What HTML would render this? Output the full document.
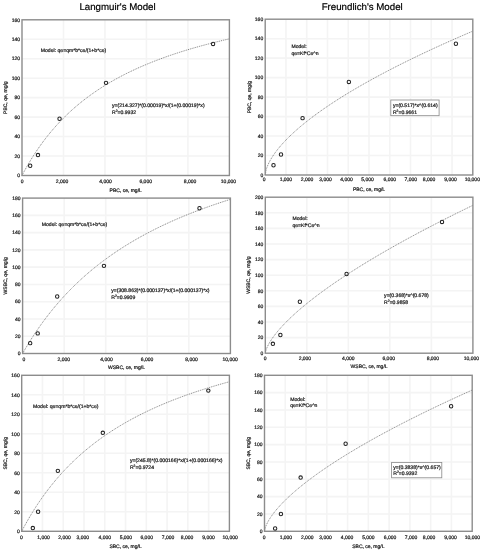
<!DOCTYPE html>
<html><head><meta charset="utf-8"><style>
html,body{margin:0;padding:0;background:#fff;width:483px;height:550px;overflow:hidden}
svg{display:block;filter:grayscale(1);text-rendering:geometricPrecision;font-family:"Liberation Sans",sans-serif}
</style></head><body>
<svg width="483" height="550" viewBox="0 0 483 550">
<rect width="483" height="550" fill="#fff"/>
<path d="M22.00 156.04H229.40M22.00 136.57H229.40M22.00 117.11H229.40M22.00 97.65H229.40M22.00 78.19H229.40M22.00 58.72H229.40M22.00 39.26H229.40M63.48 19.80V175.50M104.96 19.80V175.50M146.44 19.80V175.50M187.92 19.80V175.50" stroke="#f4f4f4" stroke-width="1.6" fill="none"/>
<polyline points="22.00,175.50 23.04,173.54 24.07,171.61 25.11,169.72 26.15,167.86 27.18,166.04 28.22,164.25 29.26,162.50 30.30,160.77 31.33,159.07 32.37,157.41 33.41,155.77 34.44,154.16 35.48,152.57 36.52,151.02 37.55,149.49 38.59,147.98 39.63,146.50 40.67,145.04 41.70,143.61 42.74,142.20 43.78,140.81 44.81,139.44 45.85,138.10 46.89,136.78 47.92,135.47 48.96,134.19 50.00,132.92 51.04,131.68 52.07,130.45 53.11,129.24 54.15,128.05 55.18,126.88 56.22,125.72 57.26,124.58 58.30,123.46 59.33,122.35 60.37,121.26 61.41,120.18 62.44,119.12 63.48,118.07 64.52,117.04 65.55,116.02 66.59,115.01 67.63,114.02 68.66,113.04 69.70,112.07 70.74,111.12 71.78,110.18 72.81,109.25 73.85,108.33 74.89,107.43 75.92,106.54 76.96,105.65 78.00,104.78 79.03,103.92 80.07,103.07 81.11,102.23 82.15,101.41 83.18,100.59 84.22,99.78 85.26,98.98 86.29,98.19 87.33,97.41 88.37,96.64 89.41,95.88 90.44,95.12 91.48,94.38 92.52,93.64 93.55,92.92 94.59,92.20 95.63,91.49 96.66,90.79 97.70,90.09 98.74,89.40 99.78,88.72 100.81,88.05 101.85,87.39 102.89,86.73 103.92,86.08 104.96,85.44 106.00,84.80 107.03,84.17 108.07,83.55 109.11,82.93 110.14,82.32 111.18,81.72 112.22,81.12 113.26,80.53 114.29,79.95 115.33,79.37 116.37,78.80 117.40,78.23 118.44,77.67 119.48,77.11 120.52,76.56 121.55,76.02 122.59,75.48 123.63,74.94 124.66,74.41 125.70,73.89 126.74,73.37 127.77,72.86 128.81,72.35 129.85,71.85 130.88,71.35 131.92,70.85 132.96,70.36 134.00,69.88 135.03,69.40 136.07,68.92 137.11,68.45 138.14,67.98 139.18,67.52 140.22,67.06 141.25,66.61 142.29,66.16 143.33,65.71 144.37,65.27 145.40,64.83 146.44,64.39 147.48,63.96 148.51,63.54 149.55,63.11 150.59,62.69 151.62,62.28 152.66,61.87 153.70,61.46 154.74,61.05 155.77,60.65 156.81,60.25 157.85,59.86 158.88,59.46 159.92,59.08 160.96,58.69 162.00,58.31 163.03,57.93 164.07,57.56 165.11,57.18 166.14,56.81 167.18,56.45 168.22,56.08 169.25,55.72 170.29,55.37 171.33,55.01 172.37,54.66 173.40,54.31 174.44,53.96 175.48,53.62 176.51,53.28 177.55,52.94 178.59,52.60 179.62,52.27 180.66,51.94 181.70,51.61 182.74,51.29 183.77,50.96 184.81,50.64 185.85,50.33 186.88,50.01 187.92,49.70 188.96,49.39 189.99,49.08 191.03,48.77 192.07,48.47 193.10,48.17 194.14,47.87 195.18,47.57 196.22,47.27 197.25,46.98 198.29,46.69 199.33,46.40 200.36,46.12 201.40,45.83 202.44,45.55 203.47,45.27 204.51,44.99 205.55,44.71 206.59,44.44 207.62,44.17 208.66,43.90 209.70,43.63 210.73,43.36 211.77,43.09 212.81,42.83 213.84,42.57 214.88,42.31 215.92,42.05 216.96,41.80 217.99,41.54 219.03,41.29 220.07,41.04 221.10,40.79 222.14,40.54 223.18,40.29 224.22,40.05 225.25,39.81 226.29,39.57 227.33,39.33 228.36,39.09 229.40,38.85" stroke="#6a6a6a" stroke-width="0.85" fill="none" stroke-dasharray="1 0.9"/>
<rect x="22.00" y="19.80" width="207.40" height="155.70" stroke="#8c8c8c" stroke-width="1.4" fill="none"/>
<circle cx="30.19" cy="165.77" r="1.7" stroke="#222" stroke-width="1.05" fill="none"/>
<circle cx="37.97" cy="155.06" r="1.7" stroke="#222" stroke-width="1.05" fill="none"/>
<circle cx="59.54" cy="118.77" r="1.7" stroke="#222" stroke-width="1.05" fill="none"/>
<circle cx="106.00" cy="82.86" r="1.7" stroke="#222" stroke-width="1.05" fill="none"/>
<circle cx="213.08" cy="43.93" r="1.7" stroke="#222" stroke-width="1.05" fill="none"/>
<text x="20.00" y="177.20" font-size="5.0" text-anchor="end" fill="#1a1a1a" stroke="#1a1a1a" stroke-width="0.22">0</text>
<text x="20.00" y="157.74" font-size="5.0" text-anchor="end" fill="#1a1a1a" stroke="#1a1a1a" stroke-width="0.22">20</text>
<text x="20.00" y="138.27" font-size="5.0" text-anchor="end" fill="#1a1a1a" stroke="#1a1a1a" stroke-width="0.22">40</text>
<text x="20.00" y="118.81" font-size="5.0" text-anchor="end" fill="#1a1a1a" stroke="#1a1a1a" stroke-width="0.22">60</text>
<text x="20.00" y="99.35" font-size="5.0" text-anchor="end" fill="#1a1a1a" stroke="#1a1a1a" stroke-width="0.22">80</text>
<text x="20.00" y="79.89" font-size="5.0" text-anchor="end" fill="#1a1a1a" stroke="#1a1a1a" stroke-width="0.22">100</text>
<text x="20.00" y="60.42" font-size="5.0" text-anchor="end" fill="#1a1a1a" stroke="#1a1a1a" stroke-width="0.22">120</text>
<text x="20.00" y="40.96" font-size="5.0" text-anchor="end" fill="#1a1a1a" stroke="#1a1a1a" stroke-width="0.22">140</text>
<text x="20.00" y="21.50" font-size="5.0" text-anchor="end" fill="#1a1a1a" stroke="#1a1a1a" stroke-width="0.22">160</text>
<text x="22.20" y="183.20" font-size="5.0" text-anchor="middle" fill="#1a1a1a" stroke="#1a1a1a" stroke-width="0.22">0</text>
<text x="62.10" y="183.20" font-size="5.0" text-anchor="middle" fill="#1a1a1a" stroke="#1a1a1a" stroke-width="0.22">2,000</text>
<text x="105.50" y="183.20" font-size="5.0" text-anchor="middle" fill="#1a1a1a" stroke="#1a1a1a" stroke-width="0.22">4,000</text>
<text x="145.70" y="183.20" font-size="5.0" text-anchor="middle" fill="#1a1a1a" stroke="#1a1a1a" stroke-width="0.22">6,000</text>
<text x="190.10" y="183.20" font-size="5.0" text-anchor="middle" fill="#1a1a1a" stroke="#1a1a1a" stroke-width="0.22">8,000</text>
<text x="228.50" y="183.20" font-size="5.0" text-anchor="middle" fill="#1a1a1a" stroke="#1a1a1a" stroke-width="0.22">10,000</text>
<text x="125.70" y="192.20" font-size="5.0" text-anchor="middle" fill="#1a1a1a" stroke="#1a1a1a" stroke-width="0.22">PBC, ce, mg/L</text>
<text x="7.10" y="97.65" font-size="5.0" text-anchor="middle" fill="#1a1a1a" stroke="#1a1a1a" stroke-width="0.22" transform="rotate(-90 7.10 97.65)">PBC, qe, mg/g</text>
<path d="M22.60 336.23H230.40M22.60 318.97H230.40M22.60 301.70H230.40M22.60 284.43H230.40M22.60 267.17H230.40M22.60 249.90H230.40M22.60 232.63H230.40M22.60 215.37H230.40M64.16 198.10V353.50M105.72 198.10V353.50M147.28 198.10V353.50M188.84 198.10V353.50" stroke="#f4f4f4" stroke-width="1.6" fill="none"/>
<polyline points="22.60,353.50 23.64,351.69 24.68,349.90 25.72,348.13 26.76,346.39 27.80,344.67 28.83,342.97 29.87,341.30 30.91,339.65 31.95,338.02 32.99,336.41 34.03,334.82 35.07,333.25 36.11,331.70 37.15,330.17 38.19,328.65 39.22,327.16 40.26,325.69 41.30,324.23 42.34,322.79 43.38,321.37 44.42,319.97 45.46,318.58 46.50,317.21 47.54,315.85 48.58,314.51 49.61,313.19 50.65,311.88 51.69,310.59 52.73,309.31 53.77,308.04 54.81,306.79 55.85,305.56 56.89,304.34 57.93,303.13 58.97,301.93 60.00,300.75 61.04,299.58 62.08,298.43 63.12,297.28 64.16,296.15 65.20,295.03 66.24,293.92 67.28,292.83 68.32,291.74 69.36,290.67 70.39,289.61 71.43,288.56 72.47,287.52 73.51,286.49 74.55,285.47 75.59,284.46 76.63,283.47 77.67,282.48 78.71,281.50 79.75,280.53 80.78,279.57 81.82,278.62 82.86,277.68 83.90,276.75 84.94,275.83 85.98,274.92 87.02,274.01 88.06,273.12 89.10,272.23 90.13,271.35 91.17,270.48 92.21,269.62 93.25,268.76 94.29,267.92 95.33,267.08 96.37,266.25 97.41,265.43 98.45,264.61 99.49,263.80 100.53,263.00 101.56,262.21 102.60,261.42 103.64,260.64 104.68,259.87 105.72,259.10 106.76,258.35 107.80,257.59 108.84,256.85 109.88,256.11 110.91,255.38 111.95,254.65 112.99,253.93 114.03,253.21 115.07,252.51 116.11,251.80 117.15,251.11 118.19,250.42 119.23,249.73 120.27,249.06 121.31,248.38 122.34,247.71 123.38,247.05 124.42,246.40 125.46,245.74 126.50,245.10 127.54,244.46 128.58,243.82 129.62,243.19 130.66,242.57 131.69,241.95 132.73,241.33 133.77,240.72 134.81,240.11 135.85,239.51 136.89,238.92 137.93,238.32 138.97,237.74 140.01,237.16 141.05,236.58 142.09,236.00 143.12,235.43 144.16,234.87 145.20,234.31 146.24,233.75 147.28,233.20 148.32,232.65 149.36,232.11 150.40,231.57 151.44,231.03 152.47,230.50 153.51,229.97 154.55,229.45 155.59,228.93 156.63,228.41 157.67,227.90 158.71,227.39 159.75,226.88 160.79,226.38 161.83,225.88 162.86,225.39 163.90,224.90 164.94,224.41 165.98,223.92 167.02,223.44 168.06,222.96 169.10,222.49 170.14,222.02 171.18,221.55 172.22,221.09 173.25,220.63 174.29,220.17 175.33,219.71 176.37,219.26 177.41,218.81 178.45,218.37 179.49,217.92 180.53,217.48 181.57,217.05 182.61,216.61 183.64,216.18 184.68,215.75 185.72,215.33 186.76,214.90 187.80,214.48 188.84,214.07 189.88,213.65 190.92,213.24 191.96,212.83 193.00,212.43 194.03,212.02 195.07,211.62 196.11,211.22 197.15,210.83 198.19,210.43 199.23,210.04 200.27,209.65 201.31,209.27 202.35,208.88 203.39,208.50 204.42,208.12 205.46,207.75 206.50,207.37 207.54,207.00 208.58,206.63 209.62,206.26 210.66,205.90 211.70,205.53 212.74,205.17 213.78,204.81 214.81,204.46 215.85,204.10 216.89,203.75 217.93,203.40 218.97,203.05 220.01,202.71 221.05,202.36 222.09,202.02 223.13,201.68 224.17,201.35 225.20,201.01 226.24,200.68 227.28,200.34 228.32,200.01 229.36,199.69 230.40,199.36" stroke="#6a6a6a" stroke-width="0.85" fill="none" stroke-dasharray="1 0.9"/>
<rect x="22.60" y="198.10" width="207.80" height="155.40" stroke="#8c8c8c" stroke-width="1.4" fill="none"/>
<circle cx="30.18" cy="343.14" r="1.7" stroke="#222" stroke-width="1.05" fill="none"/>
<circle cx="37.71" cy="333.38" r="1.7" stroke="#222" stroke-width="1.05" fill="none"/>
<circle cx="57.20" cy="296.52" r="1.7" stroke="#222" stroke-width="1.05" fill="none"/>
<circle cx="103.95" cy="265.87" r="1.7" stroke="#222" stroke-width="1.05" fill="none"/>
<circle cx="199.48" cy="208.20" r="1.7" stroke="#222" stroke-width="1.05" fill="none"/>
<text x="20.60" y="355.20" font-size="5.0" text-anchor="end" fill="#1a1a1a" stroke="#1a1a1a" stroke-width="0.22">0</text>
<text x="20.60" y="337.93" font-size="5.0" text-anchor="end" fill="#1a1a1a" stroke="#1a1a1a" stroke-width="0.22">20</text>
<text x="20.60" y="320.67" font-size="5.0" text-anchor="end" fill="#1a1a1a" stroke="#1a1a1a" stroke-width="0.22">40</text>
<text x="20.60" y="303.40" font-size="5.0" text-anchor="end" fill="#1a1a1a" stroke="#1a1a1a" stroke-width="0.22">60</text>
<text x="20.60" y="286.13" font-size="5.0" text-anchor="end" fill="#1a1a1a" stroke="#1a1a1a" stroke-width="0.22">80</text>
<text x="20.60" y="268.87" font-size="5.0" text-anchor="end" fill="#1a1a1a" stroke="#1a1a1a" stroke-width="0.22">100</text>
<text x="20.60" y="251.60" font-size="5.0" text-anchor="end" fill="#1a1a1a" stroke="#1a1a1a" stroke-width="0.22">120</text>
<text x="20.60" y="234.33" font-size="5.0" text-anchor="end" fill="#1a1a1a" stroke="#1a1a1a" stroke-width="0.22">140</text>
<text x="20.60" y="217.07" font-size="5.0" text-anchor="end" fill="#1a1a1a" stroke="#1a1a1a" stroke-width="0.22">160</text>
<text x="20.60" y="199.80" font-size="5.0" text-anchor="end" fill="#1a1a1a" stroke="#1a1a1a" stroke-width="0.22">180</text>
<text x="24.00" y="361.10" font-size="5.0" text-anchor="middle" fill="#1a1a1a" stroke="#1a1a1a" stroke-width="0.22">0</text>
<text x="63.80" y="361.10" font-size="5.0" text-anchor="middle" fill="#1a1a1a" stroke="#1a1a1a" stroke-width="0.22">2,000</text>
<text x="106.50" y="361.10" font-size="5.0" text-anchor="middle" fill="#1a1a1a" stroke="#1a1a1a" stroke-width="0.22">4,000</text>
<text x="147.10" y="361.10" font-size="5.0" text-anchor="middle" fill="#1a1a1a" stroke="#1a1a1a" stroke-width="0.22">6,000</text>
<text x="191.60" y="361.10" font-size="5.0" text-anchor="middle" fill="#1a1a1a" stroke="#1a1a1a" stroke-width="0.22">8,000</text>
<text x="230.10" y="361.10" font-size="5.0" text-anchor="middle" fill="#1a1a1a" stroke="#1a1a1a" stroke-width="0.22">10,000</text>
<text x="126.50" y="369.20" font-size="5.0" text-anchor="middle" fill="#1a1a1a" stroke="#1a1a1a" stroke-width="0.22">WSBC, ce, mg/L</text>
<text x="7.30" y="275.80" font-size="5.0" text-anchor="middle" fill="#1a1a1a" stroke="#1a1a1a" stroke-width="0.22" transform="rotate(-90 7.30 275.80)">WSBC, qe, mg/g</text>
<path d="M21.70 511.80H229.40M21.70 492.30H229.40M21.70 472.80H229.40M21.70 453.30H229.40M21.70 433.80H229.40M21.70 414.30H229.40M21.70 394.80H229.40M42.47 375.30V531.30M63.24 375.30V531.30M84.01 375.30V531.30M104.78 375.30V531.30M125.55 375.30V531.30M146.32 375.30V531.30M167.09 375.30V531.30M187.86 375.30V531.30M208.63 375.30V531.30" stroke="#f4f4f4" stroke-width="1.6" fill="none"/>
<polyline points="21.70,531.30 22.74,529.33 23.78,527.39 24.82,525.48 25.85,523.60 26.89,521.75 27.93,519.93 28.97,518.14 30.01,516.38 31.05,514.64 32.09,512.93 33.12,511.25 34.16,509.59 35.20,507.96 36.24,506.35 37.28,504.77 38.32,503.20 39.35,501.67 40.39,500.15 41.43,498.65 42.47,497.18 43.51,495.73 44.55,494.30 45.59,492.88 46.62,491.49 47.66,490.12 48.70,488.76 49.74,487.43 50.78,486.11 51.82,484.81 52.86,483.52 53.89,482.26 54.93,481.01 55.97,479.77 57.01,478.55 58.05,477.35 59.09,476.17 60.12,474.99 61.16,473.84 62.20,472.69 63.24,471.57 64.28,470.45 65.32,469.35 66.36,468.26 67.39,467.19 68.43,466.13 69.47,465.08 70.51,464.05 71.55,463.02 72.59,462.01 73.62,461.01 74.66,460.02 75.70,459.05 76.74,458.08 77.78,457.13 78.82,456.19 79.86,455.25 80.89,454.33 81.93,453.42 82.97,452.52 84.01,451.63 85.05,450.75 86.09,449.87 87.13,449.01 88.16,448.16 89.20,447.32 90.24,446.48 91.28,445.66 92.32,444.84 93.36,444.03 94.40,443.23 95.43,442.44 96.47,441.65 97.51,440.88 98.55,440.11 99.59,439.35 100.63,438.60 101.66,437.86 102.70,437.12 103.74,436.39 104.78,435.67 105.82,434.95 106.86,434.25 107.90,433.55 108.93,432.85 109.97,432.16 111.01,431.48 112.05,430.81 113.09,430.14 114.13,429.48 115.17,428.83 116.20,428.18 117.24,427.53 118.28,426.90 119.32,426.27 120.36,425.64 121.40,425.02 122.43,424.41 123.47,423.80 124.51,423.20 125.55,422.60 126.59,422.01 127.63,421.43 128.67,420.85 129.70,420.27 130.74,419.70 131.78,419.13 132.82,418.57 133.86,418.02 134.90,417.47 135.94,416.92 136.97,416.38 138.01,415.84 139.05,415.31 140.09,414.78 141.13,414.26 142.17,413.74 143.20,413.23 144.24,412.72 145.28,412.21 146.32,411.71 147.36,411.22 148.40,410.72 149.44,410.23 150.47,409.75 151.51,409.27 152.55,408.79 153.59,408.32 154.63,407.85 155.67,407.38 156.70,406.92 157.74,406.46 158.78,406.01 159.82,405.55 160.86,405.11 161.90,404.66 162.94,404.22 163.97,403.79 165.01,403.35 166.05,402.92 167.09,402.49 168.13,402.07 169.17,401.65 170.21,401.23 171.24,400.82 172.28,400.41 173.32,400.00 174.36,399.59 175.40,399.19 176.44,398.79 177.48,398.40 178.51,398.00 179.55,397.61 180.59,397.22 181.63,396.84 182.67,396.46 183.71,396.08 184.74,395.70 185.78,395.33 186.82,394.96 187.86,394.59 188.90,394.22 189.94,393.86 190.98,393.50 192.01,393.14 193.05,392.79 194.09,392.43 195.13,392.08 196.17,391.73 197.21,391.39 198.25,391.05 199.28,390.70 200.32,390.37 201.36,390.03 202.40,389.70 203.44,389.36 204.48,389.03 205.51,388.71 206.55,388.38 207.59,388.06 208.63,387.74 209.67,387.42 210.71,387.10 211.75,386.79 212.78,386.48 213.82,386.16 214.86,385.86 215.90,385.55 216.94,385.25 217.98,384.94 219.02,384.64 220.05,384.34 221.09,384.05 222.13,383.75 223.17,383.46 224.21,383.17 225.25,382.88 226.28,382.59 227.32,382.31 228.36,382.02 229.40,381.74" stroke="#6a6a6a" stroke-width="0.85" fill="none" stroke-dasharray="1 0.9"/>
<rect x="21.70" y="375.30" width="207.70" height="156.00" stroke="#8c8c8c" stroke-width="1.4" fill="none"/>
<circle cx="32.83" cy="528.08" r="1.7" stroke="#222" stroke-width="1.05" fill="none"/>
<circle cx="38.11" cy="511.80" r="1.7" stroke="#222" stroke-width="1.05" fill="none"/>
<circle cx="57.84" cy="470.85" r="1.7" stroke="#222" stroke-width="1.05" fill="none"/>
<circle cx="102.83" cy="432.82" r="1.7" stroke="#222" stroke-width="1.05" fill="none"/>
<circle cx="208.32" cy="390.61" r="1.7" stroke="#222" stroke-width="1.05" fill="none"/>
<text x="19.70" y="533.00" font-size="5.0" text-anchor="end" fill="#1a1a1a" stroke="#1a1a1a" stroke-width="0.22">0</text>
<text x="19.70" y="513.50" font-size="5.0" text-anchor="end" fill="#1a1a1a" stroke="#1a1a1a" stroke-width="0.22">20</text>
<text x="19.70" y="494.00" font-size="5.0" text-anchor="end" fill="#1a1a1a" stroke="#1a1a1a" stroke-width="0.22">40</text>
<text x="19.70" y="474.50" font-size="5.0" text-anchor="end" fill="#1a1a1a" stroke="#1a1a1a" stroke-width="0.22">60</text>
<text x="19.70" y="455.00" font-size="5.0" text-anchor="end" fill="#1a1a1a" stroke="#1a1a1a" stroke-width="0.22">80</text>
<text x="19.70" y="435.50" font-size="5.0" text-anchor="end" fill="#1a1a1a" stroke="#1a1a1a" stroke-width="0.22">100</text>
<text x="19.70" y="416.00" font-size="5.0" text-anchor="end" fill="#1a1a1a" stroke="#1a1a1a" stroke-width="0.22">120</text>
<text x="19.70" y="396.50" font-size="5.0" text-anchor="end" fill="#1a1a1a" stroke="#1a1a1a" stroke-width="0.22">140</text>
<text x="19.70" y="377.00" font-size="5.0" text-anchor="end" fill="#1a1a1a" stroke="#1a1a1a" stroke-width="0.22">160</text>
<text x="21.50" y="538.70" font-size="5.0" text-anchor="middle" fill="#1a1a1a" stroke="#1a1a1a" stroke-width="0.22">0</text>
<text x="43.60" y="538.70" font-size="5.0" text-anchor="middle" fill="#1a1a1a" stroke="#1a1a1a" stroke-width="0.22">1,000</text>
<text x="64.60" y="538.70" font-size="5.0" text-anchor="middle" fill="#1a1a1a" stroke="#1a1a1a" stroke-width="0.22">2,000</text>
<text x="82.80" y="538.70" font-size="5.0" text-anchor="middle" fill="#1a1a1a" stroke="#1a1a1a" stroke-width="0.22">3,000</text>
<text x="104.80" y="538.70" font-size="5.0" text-anchor="middle" fill="#1a1a1a" stroke="#1a1a1a" stroke-width="0.22">4,000</text>
<text x="125.90" y="538.70" font-size="5.0" text-anchor="middle" fill="#1a1a1a" stroke="#1a1a1a" stroke-width="0.22">5,000</text>
<text x="146.70" y="538.70" font-size="5.0" text-anchor="middle" fill="#1a1a1a" stroke="#1a1a1a" stroke-width="0.22">6,000</text>
<text x="168.10" y="538.70" font-size="5.0" text-anchor="middle" fill="#1a1a1a" stroke="#1a1a1a" stroke-width="0.22">7,000</text>
<text x="187.00" y="538.70" font-size="5.0" text-anchor="middle" fill="#1a1a1a" stroke="#1a1a1a" stroke-width="0.22">8,000</text>
<text x="208.60" y="538.70" font-size="5.0" text-anchor="middle" fill="#1a1a1a" stroke="#1a1a1a" stroke-width="0.22">9,000</text>
<text x="230.10" y="538.70" font-size="5.0" text-anchor="middle" fill="#1a1a1a" stroke="#1a1a1a" stroke-width="0.22">10,000</text>
<text x="125.55" y="547.80" font-size="5.0" text-anchor="middle" fill="#1a1a1a" stroke="#1a1a1a" stroke-width="0.22">SBC, ce, mg/L</text>
<text x="7.10" y="453.30" font-size="5.0" text-anchor="middle" fill="#1a1a1a" stroke="#1a1a1a" stroke-width="0.22" transform="rotate(-90 7.10 453.30)">SBC, qe, mg/g</text>
<path d="M265.20 155.53H472.80M265.20 136.05H472.80M265.20 116.58H472.80M265.20 97.10H472.80M265.20 77.62H472.80M265.20 58.15H472.80M265.20 38.68H472.80M285.96 19.20V175.00M306.72 19.20V175.00M327.48 19.20V175.00M348.24 19.20V175.00M369.00 19.20V175.00M389.76 19.20V175.00M410.52 19.20V175.00M431.28 19.20V175.00M452.04 19.20V175.00" stroke="#f4f4f4" stroke-width="1.6" fill="none"/>
<polyline points="265.20,175.00 266.24,169.44 267.28,166.49 268.31,164.08 269.35,161.98 270.39,160.06 271.43,158.29 272.47,156.63 273.50,155.07 274.54,153.57 275.58,152.14 276.62,150.76 277.66,149.43 278.69,148.14 279.73,146.89 280.77,145.68 281.81,144.49 282.85,143.33 283.88,142.20 284.92,141.10 285.96,140.01 287.00,138.95 288.04,137.90 289.07,136.88 290.11,135.87 291.15,134.87 292.19,133.89 293.23,132.93 294.26,131.98 295.30,131.04 296.34,130.12 297.38,129.21 298.42,128.31 299.45,127.41 300.49,126.53 301.53,125.66 302.57,124.80 303.61,123.95 304.64,123.11 305.68,122.27 306.72,121.45 307.76,120.63 308.80,119.82 309.83,119.02 310.87,118.22 311.91,117.43 312.95,116.65 313.99,115.87 315.02,115.11 316.06,114.34 317.10,113.59 318.14,112.83 319.18,112.09 320.21,111.35 321.25,110.61 322.29,109.88 323.33,109.16 324.37,108.44 325.40,107.73 326.44,107.02 327.48,106.31 328.52,105.61 329.56,104.91 330.59,104.22 331.63,103.53 332.67,102.85 333.71,102.17 334.75,101.50 335.78,100.82 336.82,100.16 337.86,99.49 338.90,98.83 339.94,98.17 340.97,97.52 342.01,96.87 343.05,96.22 344.09,95.58 345.13,94.94 346.16,94.30 347.20,93.67 348.24,93.04 349.28,92.41 350.32,91.79 351.35,91.17 352.39,90.55 353.43,89.93 354.47,89.32 355.51,88.71 356.54,88.10 357.58,87.50 358.62,86.89 359.66,86.29 360.70,85.70 361.73,85.10 362.77,84.51 363.81,83.92 364.85,83.33 365.89,82.75 366.92,82.16 367.96,81.58 369.00,81.00 370.04,80.43 371.08,79.85 372.11,79.28 373.15,78.71 374.19,78.15 375.23,77.58 376.27,77.02 377.30,76.46 378.34,75.90 379.38,75.34 380.42,74.78 381.46,74.23 382.49,73.68 383.53,73.13 384.57,72.58 385.61,72.04 386.65,71.49 387.68,70.95 388.72,70.41 389.76,69.87 390.80,69.33 391.84,68.80 392.87,68.26 393.91,67.73 394.95,67.20 395.99,66.67 397.03,66.15 398.06,65.62 399.10,65.10 400.14,64.58 401.18,64.05 402.22,63.54 403.25,63.02 404.29,62.50 405.33,61.99 406.37,61.47 407.41,60.96 408.44,60.45 409.48,59.94 410.52,59.43 411.56,58.93 412.60,58.42 413.63,57.92 414.67,57.42 415.71,56.92 416.75,56.42 417.79,55.92 418.82,55.42 419.86,54.93 420.90,54.43 421.94,53.94 422.98,53.45 424.01,52.96 425.05,52.47 426.09,51.98 427.13,51.50 428.17,51.01 429.20,50.53 430.24,50.04 431.28,49.56 432.32,49.08 433.36,48.60 434.39,48.12 435.43,47.64 436.47,47.17 437.51,46.69 438.55,46.22 439.58,45.75 440.62,45.27 441.66,44.80 442.70,44.33 443.74,43.86 444.77,43.40 445.81,42.93 446.85,42.46 447.89,42.00 448.93,41.54 449.96,41.07 451.00,40.61 452.04,40.15 453.08,39.69 454.12,39.23 455.15,38.78 456.19,38.32 457.23,37.86 458.27,37.41 459.31,36.96 460.34,36.50 461.38,36.05 462.42,35.60 463.46,35.15 464.50,34.70 465.53,34.25 466.57,33.81 467.61,33.36 468.65,32.91 469.69,32.47 470.72,32.03 471.76,31.58 472.80,31.14" stroke="#6a6a6a" stroke-width="0.85" fill="none" stroke-dasharray="1 0.9"/>
<rect x="265.20" y="19.20" width="207.60" height="155.80" stroke="#8c8c8c" stroke-width="1.4" fill="none"/>
<circle cx="273.50" cy="165.26" r="1.7" stroke="#222" stroke-width="1.05" fill="none"/>
<circle cx="281.00" cy="154.45" r="1.7" stroke="#222" stroke-width="1.05" fill="none"/>
<circle cx="302.57" cy="118.13" r="1.7" stroke="#222" stroke-width="1.05" fill="none"/>
<circle cx="348.86" cy="81.91" r="1.7" stroke="#222" stroke-width="1.05" fill="none"/>
<circle cx="455.90" cy="43.74" r="1.7" stroke="#222" stroke-width="1.05" fill="none"/>
<text x="263.20" y="176.70" font-size="5.0" text-anchor="end" fill="#1a1a1a" stroke="#1a1a1a" stroke-width="0.22">0</text>
<text x="263.20" y="157.22" font-size="5.0" text-anchor="end" fill="#1a1a1a" stroke="#1a1a1a" stroke-width="0.22">20</text>
<text x="263.20" y="137.75" font-size="5.0" text-anchor="end" fill="#1a1a1a" stroke="#1a1a1a" stroke-width="0.22">40</text>
<text x="263.20" y="118.28" font-size="5.0" text-anchor="end" fill="#1a1a1a" stroke="#1a1a1a" stroke-width="0.22">60</text>
<text x="263.20" y="98.80" font-size="5.0" text-anchor="end" fill="#1a1a1a" stroke="#1a1a1a" stroke-width="0.22">80</text>
<text x="263.20" y="79.32" font-size="5.0" text-anchor="end" fill="#1a1a1a" stroke="#1a1a1a" stroke-width="0.22">100</text>
<text x="263.20" y="59.85" font-size="5.0" text-anchor="end" fill="#1a1a1a" stroke="#1a1a1a" stroke-width="0.22">120</text>
<text x="263.20" y="40.38" font-size="5.0" text-anchor="end" fill="#1a1a1a" stroke="#1a1a1a" stroke-width="0.22">140</text>
<text x="263.20" y="20.90" font-size="5.0" text-anchor="end" fill="#1a1a1a" stroke="#1a1a1a" stroke-width="0.22">160</text>
<text x="264.10" y="181.40" font-size="5.0" text-anchor="middle" fill="#1a1a1a" stroke="#1a1a1a" stroke-width="0.22">0</text>
<text x="285.90" y="181.40" font-size="5.0" text-anchor="middle" fill="#1a1a1a" stroke="#1a1a1a" stroke-width="0.22">1,000</text>
<text x="307.10" y="181.40" font-size="5.0" text-anchor="middle" fill="#1a1a1a" stroke="#1a1a1a" stroke-width="0.22">2,000</text>
<text x="325.50" y="181.40" font-size="5.0" text-anchor="middle" fill="#1a1a1a" stroke="#1a1a1a" stroke-width="0.22">3,000</text>
<text x="346.60" y="181.40" font-size="5.0" text-anchor="middle" fill="#1a1a1a" stroke="#1a1a1a" stroke-width="0.22">4,000</text>
<text x="367.60" y="181.40" font-size="5.0" text-anchor="middle" fill="#1a1a1a" stroke="#1a1a1a" stroke-width="0.22">5,000</text>
<text x="389.80" y="181.40" font-size="5.0" text-anchor="middle" fill="#1a1a1a" stroke="#1a1a1a" stroke-width="0.22">6,000</text>
<text x="410.80" y="181.40" font-size="5.0" text-anchor="middle" fill="#1a1a1a" stroke="#1a1a1a" stroke-width="0.22">7,000</text>
<text x="429.10" y="181.40" font-size="5.0" text-anchor="middle" fill="#1a1a1a" stroke="#1a1a1a" stroke-width="0.22">8,000</text>
<text x="450.50" y="181.40" font-size="5.0" text-anchor="middle" fill="#1a1a1a" stroke="#1a1a1a" stroke-width="0.22">9,000</text>
<text x="472.30" y="181.40" font-size="5.0" text-anchor="middle" fill="#1a1a1a" stroke="#1a1a1a" stroke-width="0.22">10,000</text>
<text x="369.00" y="190.90" font-size="5.0" text-anchor="middle" fill="#1a1a1a" stroke="#1a1a1a" stroke-width="0.22">PBC, ce, mg/L</text>
<text x="250.90" y="97.10" font-size="5.0" text-anchor="middle" fill="#1a1a1a" stroke="#1a1a1a" stroke-width="0.22" transform="rotate(-90 250.90 97.10)">PBC, qe, mg/g</text>
<path d="M265.30 337.60H472.90M265.30 322.00H472.90M265.30 306.40H472.90M265.30 290.80H472.90M265.30 275.20H472.90M265.30 259.60H472.90M265.30 244.00H472.90M265.30 228.40H472.90M265.30 212.80H472.90M306.82 197.20V353.20M348.34 197.20V353.20M389.86 197.20V353.20M431.38 197.20V353.20" stroke="#f4f4f4" stroke-width="1.6" fill="none"/>
<polyline points="265.30,353.20 266.34,349.13 267.38,346.68 268.41,344.62 269.45,342.78 270.49,341.07 271.53,339.48 272.57,337.97 273.60,336.52 274.64,335.14 275.68,333.80 276.72,332.50 277.76,331.25 278.79,330.02 279.83,328.83 280.87,327.66 281.91,326.52 282.95,325.40 283.98,324.30 285.02,323.22 286.06,322.16 287.10,321.11 288.14,320.09 289.17,319.07 290.21,318.07 291.25,317.09 292.29,316.12 293.33,315.15 294.36,314.20 295.40,313.27 296.44,312.34 297.48,311.42 298.52,310.51 299.55,309.61 300.59,308.72 301.63,307.83 302.67,306.96 303.71,306.09 304.74,305.23 305.78,304.38 306.82,303.54 307.86,302.70 308.90,301.87 309.93,301.04 310.97,300.22 312.01,299.41 313.05,298.60 314.09,297.80 315.12,297.00 316.16,296.21 317.20,295.42 318.24,294.64 319.28,293.87 320.31,293.10 321.35,292.33 322.39,291.57 323.43,290.81 324.47,290.06 325.50,289.31 326.54,288.56 327.58,287.82 328.62,287.09 329.66,286.35 330.69,285.62 331.73,284.90 332.77,284.18 333.81,283.46 334.85,282.74 335.88,282.03 336.92,281.32 337.96,280.62 339.00,279.92 340.04,279.22 341.07,278.52 342.11,277.83 343.15,277.14 344.19,276.46 345.23,275.77 346.26,275.09 347.30,274.42 348.34,273.74 349.38,273.07 350.42,272.40 351.45,271.73 352.49,271.07 353.53,270.41 354.57,269.75 355.61,269.09 356.64,268.44 357.68,267.79 358.72,267.14 359.76,266.49 360.80,265.84 361.83,265.20 362.87,264.56 363.91,263.92 364.95,263.29 365.99,262.65 367.02,262.02 368.06,261.39 369.10,260.76 370.14,260.14 371.18,259.51 372.21,258.89 373.25,258.27 374.29,257.65 375.33,257.04 376.37,256.42 377.40,255.81 378.44,255.20 379.48,254.59 380.52,253.99 381.56,253.38 382.59,252.78 383.63,252.18 384.67,251.58 385.71,250.98 386.75,250.38 387.78,249.79 388.82,249.19 389.86,248.60 390.90,248.01 391.94,247.42 392.97,246.83 394.01,246.25 395.05,245.67 396.09,245.08 397.13,244.50 398.16,243.92 399.20,243.34 400.24,242.77 401.28,242.19 402.32,241.62 403.35,241.05 404.39,240.47 405.43,239.91 406.47,239.34 407.51,238.77 408.54,238.20 409.58,237.64 410.62,237.08 411.66,236.52 412.70,235.95 413.73,235.40 414.77,234.84 415.81,234.28 416.85,233.73 417.89,233.17 418.92,232.62 419.96,232.07 421.00,231.52 422.04,230.97 423.08,230.42 424.11,229.87 425.15,229.33 426.19,228.78 427.23,228.24 428.27,227.69 429.30,227.15 430.34,226.61 431.38,226.07 432.42,225.53 433.46,225.00 434.49,224.46 435.53,223.93 436.57,223.39 437.61,222.86 438.65,222.33 439.68,221.80 440.72,221.27 441.76,220.74 442.80,220.21 443.84,219.68 444.87,219.16 445.91,218.63 446.95,218.11 447.99,217.59 449.03,217.06 450.06,216.54 451.10,216.02 452.14,215.50 453.18,214.99 454.22,214.47 455.25,213.95 456.29,213.44 457.33,212.92 458.37,212.41 459.41,211.90 460.44,211.38 461.48,210.87 462.52,210.36 463.56,209.85 464.60,209.35 465.63,208.84 466.67,208.33 467.71,207.83 468.75,207.32 469.79,206.82 470.82,206.31 471.86,205.81 472.90,205.31" stroke="#6a6a6a" stroke-width="0.85" fill="none" stroke-dasharray="1 0.9"/>
<rect x="265.30" y="197.20" width="207.60" height="156.00" stroke="#8c8c8c" stroke-width="1.4" fill="none"/>
<circle cx="272.88" cy="343.84" r="1.7" stroke="#222" stroke-width="1.05" fill="none"/>
<circle cx="280.39" cy="335.03" r="1.7" stroke="#222" stroke-width="1.05" fill="none"/>
<circle cx="299.87" cy="301.72" r="1.7" stroke="#222" stroke-width="1.05" fill="none"/>
<circle cx="346.58" cy="274.03" r="1.7" stroke="#222" stroke-width="1.05" fill="none"/>
<circle cx="442.01" cy="221.93" r="1.7" stroke="#222" stroke-width="1.05" fill="none"/>
<text x="263.30" y="354.90" font-size="5.0" text-anchor="end" fill="#1a1a1a" stroke="#1a1a1a" stroke-width="0.22">0</text>
<text x="263.30" y="339.30" font-size="5.0" text-anchor="end" fill="#1a1a1a" stroke="#1a1a1a" stroke-width="0.22">20</text>
<text x="263.30" y="323.70" font-size="5.0" text-anchor="end" fill="#1a1a1a" stroke="#1a1a1a" stroke-width="0.22">40</text>
<text x="263.30" y="308.10" font-size="5.0" text-anchor="end" fill="#1a1a1a" stroke="#1a1a1a" stroke-width="0.22">60</text>
<text x="263.30" y="292.50" font-size="5.0" text-anchor="end" fill="#1a1a1a" stroke="#1a1a1a" stroke-width="0.22">80</text>
<text x="263.30" y="276.90" font-size="5.0" text-anchor="end" fill="#1a1a1a" stroke="#1a1a1a" stroke-width="0.22">100</text>
<text x="263.30" y="261.30" font-size="5.0" text-anchor="end" fill="#1a1a1a" stroke="#1a1a1a" stroke-width="0.22">120</text>
<text x="263.30" y="245.70" font-size="5.0" text-anchor="end" fill="#1a1a1a" stroke="#1a1a1a" stroke-width="0.22">140</text>
<text x="263.30" y="230.10" font-size="5.0" text-anchor="end" fill="#1a1a1a" stroke="#1a1a1a" stroke-width="0.22">160</text>
<text x="263.30" y="214.50" font-size="5.0" text-anchor="end" fill="#1a1a1a" stroke="#1a1a1a" stroke-width="0.22">180</text>
<text x="263.30" y="198.90" font-size="5.0" text-anchor="end" fill="#1a1a1a" stroke="#1a1a1a" stroke-width="0.22">200</text>
<text x="265.20" y="360.40" font-size="5.0" text-anchor="middle" fill="#1a1a1a" stroke="#1a1a1a" stroke-width="0.22">0</text>
<text x="304.90" y="360.40" font-size="5.0" text-anchor="middle" fill="#1a1a1a" stroke="#1a1a1a" stroke-width="0.22">2,000</text>
<text x="348.30" y="360.40" font-size="5.0" text-anchor="middle" fill="#1a1a1a" stroke="#1a1a1a" stroke-width="0.22">4,000</text>
<text x="388.70" y="360.40" font-size="5.0" text-anchor="middle" fill="#1a1a1a" stroke="#1a1a1a" stroke-width="0.22">6,000</text>
<text x="432.90" y="360.40" font-size="5.0" text-anchor="middle" fill="#1a1a1a" stroke="#1a1a1a" stroke-width="0.22">8,000</text>
<text x="471.40" y="360.40" font-size="5.0" text-anchor="middle" fill="#1a1a1a" stroke="#1a1a1a" stroke-width="0.22">10,000</text>
<text x="369.10" y="368.40" font-size="5.0" text-anchor="middle" fill="#1a1a1a" stroke="#1a1a1a" stroke-width="0.22">WSBC, ce, mg/L</text>
<text x="250.40" y="275.20" font-size="5.0" text-anchor="middle" fill="#1a1a1a" stroke="#1a1a1a" stroke-width="0.22" transform="rotate(-90 250.40 275.20)">WSBC, qe, mg/g</text>
<path d="M264.50 513.97H472.20M264.50 496.63H472.20M264.50 479.30H472.20M264.50 461.97H472.20M264.50 444.63H472.20M264.50 427.30H472.20M264.50 409.97H472.20M264.50 392.63H472.20M285.27 375.30V531.30M306.04 375.30V531.30M326.81 375.30V531.30M347.58 375.30V531.30M368.35 375.30V531.30M389.12 375.30V531.30M409.89 375.30V531.30M430.66 375.30V531.30M451.43 375.30V531.30" stroke="#f4f4f4" stroke-width="1.6" fill="none"/>
<polyline points="264.50,531.30 265.54,526.95 266.58,524.45 267.62,522.35 268.65,520.49 269.69,518.79 270.73,517.19 271.77,515.69 272.81,514.26 273.85,512.89 274.88,511.57 275.92,510.29 276.96,509.06 278.00,507.86 279.04,506.69 280.08,505.54 281.12,504.43 282.15,503.34 283.19,502.27 284.23,501.22 285.27,500.19 286.31,499.17 287.35,498.18 288.39,497.19 289.42,496.23 290.46,495.27 291.50,494.33 292.54,493.40 293.58,492.49 294.62,491.58 295.65,490.69 296.69,489.80 297.73,488.93 298.77,488.06 299.81,487.21 300.85,486.36 301.89,485.52 302.92,484.69 303.96,483.87 305.00,483.05 306.04,482.24 307.08,481.44 308.12,480.64 309.16,479.85 310.19,479.07 311.23,478.29 312.27,477.52 313.31,476.76 314.35,476.00 315.39,475.24 316.43,474.49 317.46,473.75 318.50,473.01 319.54,472.28 320.58,471.55 321.62,470.82 322.66,470.10 323.69,469.39 324.73,468.67 325.77,467.97 326.81,467.26 327.85,466.56 328.89,465.87 329.93,465.18 330.96,464.49 332.00,463.81 333.04,463.13 334.08,462.45 335.12,461.78 336.16,461.11 337.19,460.44 338.23,459.78 339.27,459.11 340.31,458.46 341.35,457.80 342.39,457.15 343.43,456.50 344.46,455.86 345.50,455.22 346.54,454.58 347.58,453.94 348.62,453.31 349.66,452.68 350.70,452.05 351.73,451.42 352.77,450.80 353.81,450.18 354.85,449.56 355.89,448.94 356.93,448.33 357.97,447.72 359.00,447.11 360.04,446.50 361.08,445.90 362.12,445.29 363.16,444.69 364.20,444.10 365.23,443.50 366.27,442.91 367.31,442.32 368.35,441.73 369.39,441.14 370.43,440.55 371.47,439.97 372.50,439.39 373.54,438.81 374.58,438.23 375.62,437.65 376.66,437.08 377.70,436.51 378.74,435.94 379.77,435.37 380.81,434.80 381.85,434.24 382.89,433.67 383.93,433.11 384.97,432.55 386.00,431.99 387.04,431.44 388.08,430.88 389.12,430.33 390.16,429.78 391.20,429.23 392.24,428.68 393.27,428.13 394.31,427.58 395.35,427.04 396.39,426.50 397.43,425.95 398.47,425.41 399.50,424.88 400.54,424.34 401.58,423.80 402.62,423.27 403.66,422.74 404.70,422.20 405.74,421.67 406.77,421.14 407.81,420.62 408.85,420.09 409.89,419.57 410.93,419.04 411.97,418.52 413.01,418.00 414.04,417.48 415.08,416.96 416.12,416.44 417.16,415.93 418.20,415.41 419.24,414.90 420.27,414.38 421.31,413.87 422.35,413.36 423.39,412.85 424.43,412.35 425.47,411.84 426.51,411.33 427.54,410.83 428.58,410.32 429.62,409.82 430.66,409.32 431.70,408.82 432.74,408.32 433.78,407.82 434.81,407.33 435.85,406.83 436.89,406.33 437.93,405.84 438.97,405.35 440.01,404.85 441.04,404.36 442.08,403.87 443.12,403.38 444.16,402.90 445.20,402.41 446.24,401.92 447.28,401.44 448.31,400.95 449.35,400.47 450.39,399.99 451.43,399.51 452.47,399.03 453.51,398.55 454.55,398.07 455.58,397.59 456.62,397.11 457.66,396.64 458.70,396.16 459.74,395.69 460.78,395.21 461.81,394.74 462.85,394.27 463.89,393.80 464.93,393.33 465.97,392.86 467.01,392.39 468.05,391.92 469.08,391.46 470.12,390.99 471.16,390.52 472.20,390.06" stroke="#6a6a6a" stroke-width="0.85" fill="none" stroke-dasharray="1 0.9"/>
<rect x="264.50" y="375.30" width="207.70" height="156.00" stroke="#8c8c8c" stroke-width="1.4" fill="none"/>
<circle cx="275.13" cy="528.44" r="1.7" stroke="#222" stroke-width="1.05" fill="none"/>
<circle cx="280.91" cy="513.97" r="1.7" stroke="#222" stroke-width="1.05" fill="none"/>
<circle cx="300.64" cy="477.57" r="1.7" stroke="#222" stroke-width="1.05" fill="none"/>
<circle cx="345.63" cy="443.77" r="1.7" stroke="#222" stroke-width="1.05" fill="none"/>
<circle cx="451.12" cy="406.24" r="1.7" stroke="#222" stroke-width="1.05" fill="none"/>
<text x="262.50" y="533.00" font-size="5.0" text-anchor="end" fill="#1a1a1a" stroke="#1a1a1a" stroke-width="0.22">0</text>
<text x="262.50" y="515.67" font-size="5.0" text-anchor="end" fill="#1a1a1a" stroke="#1a1a1a" stroke-width="0.22">20</text>
<text x="262.50" y="498.33" font-size="5.0" text-anchor="end" fill="#1a1a1a" stroke="#1a1a1a" stroke-width="0.22">40</text>
<text x="262.50" y="481.00" font-size="5.0" text-anchor="end" fill="#1a1a1a" stroke="#1a1a1a" stroke-width="0.22">60</text>
<text x="262.50" y="463.67" font-size="5.0" text-anchor="end" fill="#1a1a1a" stroke="#1a1a1a" stroke-width="0.22">80</text>
<text x="262.50" y="446.33" font-size="5.0" text-anchor="end" fill="#1a1a1a" stroke="#1a1a1a" stroke-width="0.22">100</text>
<text x="262.50" y="429.00" font-size="5.0" text-anchor="end" fill="#1a1a1a" stroke="#1a1a1a" stroke-width="0.22">120</text>
<text x="262.50" y="411.67" font-size="5.0" text-anchor="end" fill="#1a1a1a" stroke="#1a1a1a" stroke-width="0.22">140</text>
<text x="262.50" y="394.33" font-size="5.0" text-anchor="end" fill="#1a1a1a" stroke="#1a1a1a" stroke-width="0.22">160</text>
<text x="262.50" y="377.00" font-size="5.0" text-anchor="end" fill="#1a1a1a" stroke="#1a1a1a" stroke-width="0.22">180</text>
<text x="264.20" y="539.10" font-size="5.0" text-anchor="middle" fill="#1a1a1a" stroke="#1a1a1a" stroke-width="0.22">0</text>
<text x="285.90" y="539.10" font-size="5.0" text-anchor="middle" fill="#1a1a1a" stroke="#1a1a1a" stroke-width="0.22">1,000</text>
<text x="307.20" y="539.10" font-size="5.0" text-anchor="middle" fill="#1a1a1a" stroke="#1a1a1a" stroke-width="0.22">2,000</text>
<text x="325.60" y="539.10" font-size="5.0" text-anchor="middle" fill="#1a1a1a" stroke="#1a1a1a" stroke-width="0.22">3,000</text>
<text x="347.00" y="539.10" font-size="5.0" text-anchor="middle" fill="#1a1a1a" stroke="#1a1a1a" stroke-width="0.22">4,000</text>
<text x="368.40" y="539.10" font-size="5.0" text-anchor="middle" fill="#1a1a1a" stroke="#1a1a1a" stroke-width="0.22">5,000</text>
<text x="390.00" y="539.10" font-size="5.0" text-anchor="middle" fill="#1a1a1a" stroke="#1a1a1a" stroke-width="0.22">6,000</text>
<text x="411.00" y="539.10" font-size="5.0" text-anchor="middle" fill="#1a1a1a" stroke="#1a1a1a" stroke-width="0.22">7,000</text>
<text x="429.10" y="539.10" font-size="5.0" text-anchor="middle" fill="#1a1a1a" stroke="#1a1a1a" stroke-width="0.22">8,000</text>
<text x="450.60" y="539.10" font-size="5.0" text-anchor="middle" fill="#1a1a1a" stroke="#1a1a1a" stroke-width="0.22">9,000</text>
<text x="472.40" y="539.10" font-size="5.0" text-anchor="middle" fill="#1a1a1a" stroke="#1a1a1a" stroke-width="0.22">10,000</text>
<text x="368.35" y="547.90" font-size="5.0" text-anchor="middle" fill="#1a1a1a" stroke="#1a1a1a" stroke-width="0.22">SBC, ce, mg/L</text>
<text x="249.70" y="453.30" font-size="5.0" text-anchor="middle" fill="#1a1a1a" stroke="#1a1a1a" stroke-width="0.22" transform="rotate(-90 249.70 453.30)">SBC, qe, mg/g</text>
<text x="117.50" y="10.30" font-size="9.7" text-anchor="middle" fill="#000" stroke="#000" stroke-width="0.2">Langmuir's Model</text>
<text x="362.20" y="10.00" font-size="9.7" text-anchor="middle" fill="#000" stroke="#000" stroke-width="0.2">Freundlich's Model</text>
<text x="40.80" y="51.80" font-size="5.1" text-anchor="start" fill="#1a1a1a" stroke="#1a1a1a" stroke-width="0.22">Model: qe=qm*b*ce/(1+b*ce)</text>
<text x="112.00" y="107.20" font-size="5.1" text-anchor="start" fill="#1a1a1a" stroke="#1a1a1a" stroke-width="0.22">y=(214.327)*(0.00019)*x/(1+(0.00019)*x)</text>
<text x="112.00" y="113.90" font-size="5.1" text-anchor="start" fill="#1a1a1a" stroke="#1a1a1a" stroke-width="0.22">R<tspan font-size="3.3" dy="-2">2</tspan><tspan dy="2">=0.9932</tspan></text>
<text x="41.80" y="225.90" font-size="5.1" text-anchor="start" fill="#1a1a1a" stroke="#1a1a1a" stroke-width="0.22">Model: qe=qm*b*ce/(1+b*ce)</text>
<text x="111.20" y="291.70" font-size="5.1" text-anchor="start" fill="#1a1a1a" stroke="#1a1a1a" stroke-width="0.22">y=(308.863)*(0.000137)*x/(1+(0.000137)*x)</text>
<text x="111.20" y="298.70" font-size="5.1" text-anchor="start" fill="#1a1a1a" stroke="#1a1a1a" stroke-width="0.22">R<tspan font-size="3.3" dy="-2">2</tspan><tspan dy="2">=0.9909</tspan></text>
<text x="33.00" y="407.90" font-size="5.1" text-anchor="start" fill="#1a1a1a" stroke="#1a1a1a" stroke-width="0.22">Model: qe=qm*b*ce/(1+b*ce)</text>
<text x="129.90" y="462.20" font-size="5.1" text-anchor="start" fill="#1a1a1a" stroke="#1a1a1a" stroke-width="0.22">y=(245.8)*(0.000166)*x/(1+(0.000166)*x)</text>
<text x="129.90" y="469.30" font-size="5.1" text-anchor="start" fill="#1a1a1a" stroke="#1a1a1a" stroke-width="0.22">R<tspan font-size="3.3" dy="-2">2</tspan><tspan dy="2">=0.9724</tspan></text>
<text x="291.40" y="48.20" font-size="5.1" text-anchor="start" fill="#1a1a1a" stroke="#1a1a1a" stroke-width="0.22">Model:</text>
<text x="291.40" y="54.80" font-size="5.1" text-anchor="start" fill="#1a1a1a" stroke="#1a1a1a" stroke-width="0.22">qe=Kf*Ce^n</text>
<text x="292.40" y="220.20" font-size="5.1" text-anchor="start" fill="#1a1a1a" stroke="#1a1a1a" stroke-width="0.22">Model:</text>
<text x="292.40" y="226.50" font-size="5.1" text-anchor="start" fill="#1a1a1a" stroke="#1a1a1a" stroke-width="0.22">qe=Kf*Ce^n</text>
<text x="290.20" y="400.70" font-size="5.1" text-anchor="start" fill="#1a1a1a" stroke="#1a1a1a" stroke-width="0.22">Model:</text>
<text x="290.20" y="407.30" font-size="5.1" text-anchor="start" fill="#1a1a1a" stroke="#1a1a1a" stroke-width="0.22">qe=Kf*Ce^n</text>
<rect x="390.8" y="100" width="48.3" height="15.7" fill="#fff" stroke="#888" stroke-width="0.8"/>
<text x="392.90" y="106.70" font-size="5.1" text-anchor="start" fill="#1a1a1a" stroke="#1a1a1a" stroke-width="0.22">y=(0.517)*x^(0.614)</text>
<text x="392.90" y="113.80" font-size="5.1" text-anchor="start" fill="#1a1a1a" stroke="#1a1a1a" stroke-width="0.22">R<tspan font-size="3.3" dy="-2">2</tspan><tspan dy="2">=0.9661</tspan></text>
<text x="384.10" y="297.20" font-size="5.1" text-anchor="start" fill="#1a1a1a" stroke="#1a1a1a" stroke-width="0.22">y=(0.368)*x^(0.678)</text>
<text x="384.10" y="303.70" font-size="5.1" text-anchor="start" fill="#1a1a1a" stroke="#1a1a1a" stroke-width="0.22">R<tspan font-size="3.3" dy="-2">2</tspan><tspan dy="2">=0.9858</tspan></text>
<rect x="391.6" y="462.5" width="50.2" height="15.3" fill="#fff" stroke="#888" stroke-width="0.8"/>
<text x="393.20" y="469.20" font-size="5.1" text-anchor="start" fill="#1a1a1a" stroke="#1a1a1a" stroke-width="0.22">y=(0.3838)*x^(0.657)</text>
<text x="393.20" y="475.10" font-size="5.1" text-anchor="start" fill="#1a1a1a" stroke="#1a1a1a" stroke-width="0.22">R<tspan font-size="3.3" dy="-2">2</tspan><tspan dy="2">=0.9392</tspan></text>
</svg>
</body></html>
